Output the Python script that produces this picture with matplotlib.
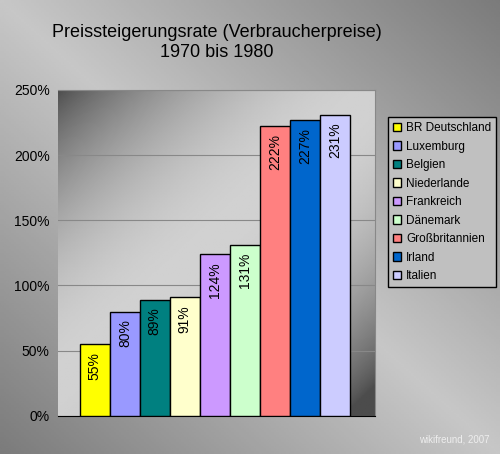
import numpy as np
import matplotlib
matplotlib.use("Agg")
import matplotlib.pyplot as plt

plt.rcParams["font.family"] = ["Liberation Sans", "DejaVu Sans"]

countries = ["BR Deutschland", "Luxemburg", "Belgien", "Niederlande", "Frankreich",
             "Dänemark", "Großbritannien", "Irland", "Italien"]
values = [55, 80, 89, 91, 124, 131, 222, 227, 231]
colors = ["#ffff00", "#9999ff", "#008080", "#ffffcc", "#cc99ff",
          "#ccffcc", "#ff8080", "#0066cc", "#ccccff"]

fig = plt.figure(figsize=(5, 4.54), dpi=100)

# figure background gradient
bg = fig.add_axes([0, 0, 1, 1], zorder=-10)
yy, xx = np.mgrid[0:1:200j, 0:1:200j]
g = 0.45 + 0.33 * np.clip(1 - np.abs((xx + (1 - yy)) - 1.0) * 0.9, 0, 1)
bg.imshow(g, cmap="gray", vmin=0, vmax=1, extent=[0, 1, 0, 1], aspect="auto", origin="upper")
bg.axis("off")

ax = fig.add_axes([0.116, 0.084, 0.634, 0.718])
# plot area gradient: dark top-left, light middle, dark bottom-right
d = (xx * 0.9 + yy * 1.0) / 1.9
pg = 0.3 + 0.52 * np.sin(np.pi * np.clip(d * 1.05, 0, 1)) ** 0.8
ax.imshow(pg, cmap="gray", vmin=0, vmax=1, extent=[-1.23, 9.34, 0, 250],
          aspect="auto", origin="upper", zorder=0)

for i, (v, c, n) in enumerate(zip(values, colors, countries)):
    ax.bar(i, v, width=1.0, color=c, edgecolor="black", linewidth=1, label=n, zorder=3)
    ax.text(i, v - 6, f"{v}%", rotation=90, ha="center", va="top", fontsize=10,
            color="black", zorder=4)

ax.set_xlim(-1.23, 9.34)
ax.set_ylim(0, 250)
ax.set_yticks(range(0, 251, 50))
ax.set_yticklabels([f"{t}%" for t in range(0, 251, 50)], fontsize=10)
ax.set_xticks([])
ax.grid(axis="y", color="#888888", linewidth=0.8, zorder=1)
for s in ["top", "right"]:
    ax.spines[s].set_color("#888888")
ax.spines["left"].set_visible(False)
ax.spines["bottom"].set_color("black")
ax.tick_params(axis="y", length=0, pad=6)

ax.set_title("Preissteigerungsrate (Verbraucherpreise)\n1970 bis 1980", fontsize=13,
             pad=24)

leg = fig.legend(loc="center left", bbox_to_anchor=(0.765, 0.555), fontsize=8.5,
                 frameon=True, fancybox=False, handlelength=0.7, handleheight=0.7,
                 handletextpad=0.4, labelspacing=0.55, borderpad=0.4)
leg.get_frame().set_facecolor("#c0c0c0")
leg.get_frame().set_edgecolor("black")
leg.get_frame().set_alpha(1)

fig.text(0.98, 0.02, "wikifreund, 2007", ha="right", va="bottom", fontsize=7,
         color="#eeeeee")

fig.savefig("out.png", dpi=100)
